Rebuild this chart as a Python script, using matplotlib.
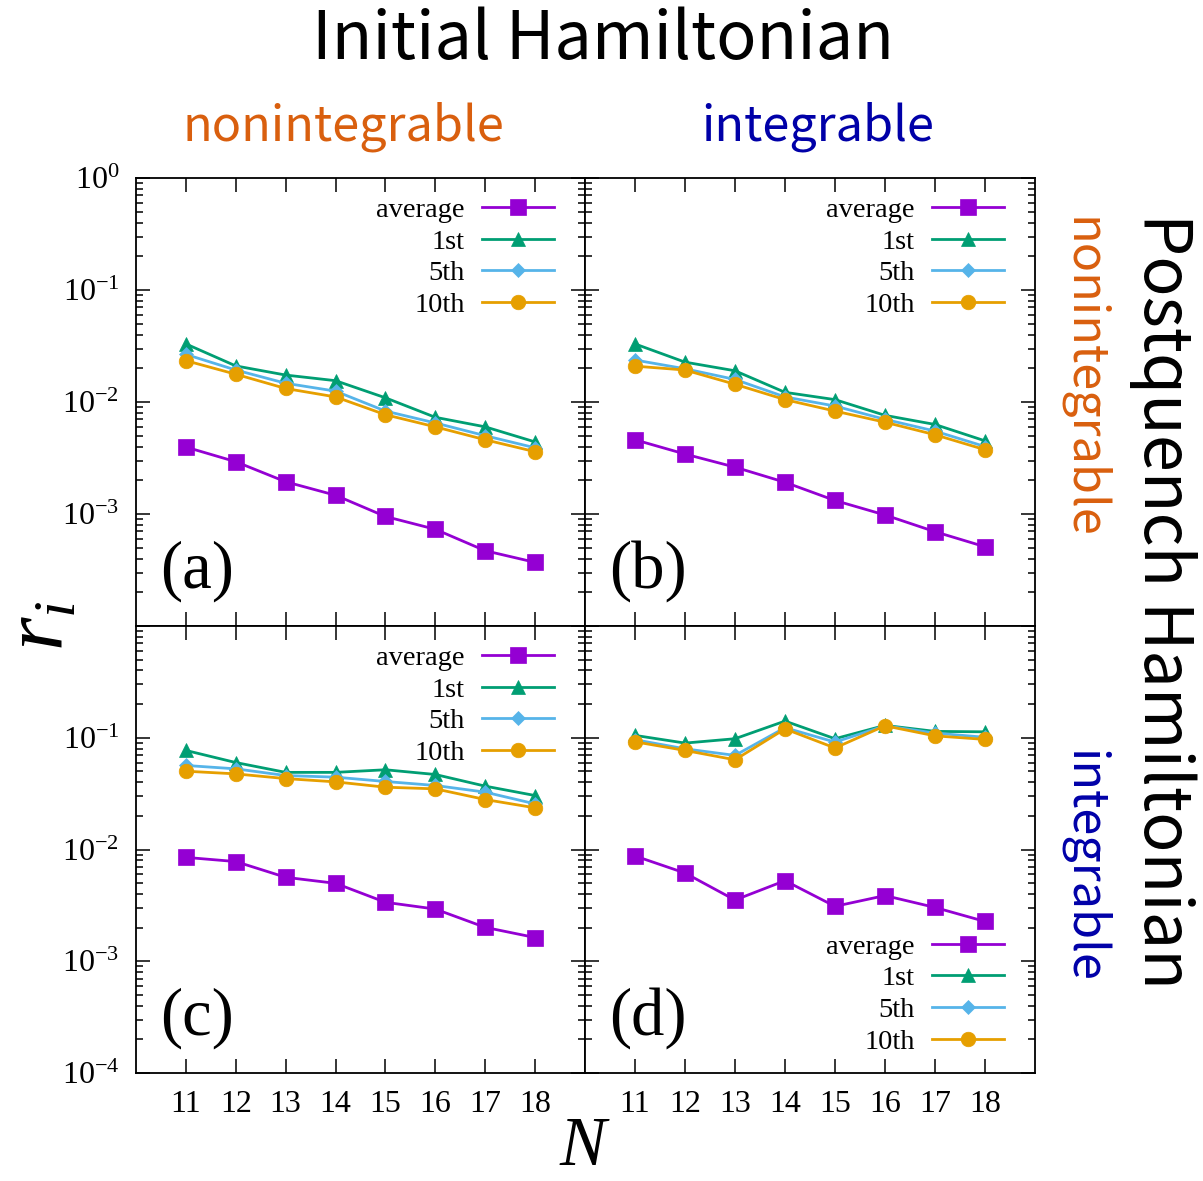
#!/usr/bin/env python
"""2x2 panel: r_i vs N for initial / postquench Hamiltonians."""

import matplotlib
matplotlib.use("Agg")
import matplotlib.pyplot as plt
from matplotlib.ticker import LogLocator, NullFormatter

plt.rcParams["font.family"] = ["Liberation Serif", "DejaVu Serif"]
plt.rcParams["mathtext.fontset"] = "custom"
plt.rcParams["mathtext.rm"] = "Liberation Serif"
plt.rcParams["mathtext.it"] = "Liberation Serif:italic"

# ---- data ----
N = [11, 12, 13, 14, 15, 16, 17, 18]

a_avg = [3.96e-3, 2.93e-3, 1.94e-3, 1.47e-3, 9.5e-4, 7.3e-4, 4.7e-4, 3.7e-4]
a_1st = [0.033, 0.021, 0.0174, 0.0155, 0.0109, 0.0073, 0.0060, 0.0044]
a_5th = [0.0266, 0.0193, 0.0147, 0.0125, 0.0083, 0.0065, 0.0050, 0.0039]
a_10th = [0.0234, 0.0177, 0.0132, 0.0111, 0.0077, 0.0060, 0.0046, 0.0036]

b_avg = [4.6e-3, 3.43e-3, 2.62e-3, 1.92e-3, 1.32e-3, 9.8e-4, 6.95e-4, 5.1e-4]
b_1st = [0.033, 0.0227, 0.019, 0.0122, 0.0105, 0.0076, 0.0063, 0.0045]
b_5th = [0.0237, 0.0198, 0.0159, 0.0111, 0.0092, 0.0070, 0.0055, 0.0040]
b_10th = [0.0209, 0.0193, 0.0144, 0.0105, 0.0083, 0.0066, 0.0051, 0.00375]

c_avg = [8.5e-3, 7.8e-3, 5.64e-3, 4.98e-3, 3.37e-3, 2.93e-3, 2.01e-3, 1.63e-3]
c_1st = [0.077, 0.060, 0.049, 0.049, 0.0517, 0.0469, 0.0369, 0.0304]
c_5th = [0.0565, 0.0527, 0.0459, 0.0444, 0.0406, 0.0374, 0.0326, 0.0256]
c_10th = [0.0502, 0.0475, 0.0431, 0.0403, 0.0361, 0.0349, 0.0280, 0.0236]

d_avg = [8.75e-3, 6.16e-3, 3.53e-3, 5.26e-3, 3.1e-3, 3.87e-3, 3.03e-3, 2.27e-3]
d_1st = [0.105, 0.0896, 0.098, 0.141, 0.098, 0.129, 0.114, 0.113]
d_5th = [0.096, 0.0796, 0.0695, 0.123, 0.0914, 0.128, 0.110, 0.101]
d_10th = [0.092, 0.077, 0.0635, 0.12, 0.081, 0.128, 0.104, 0.0966]

series_labels = ["average", "1st", "5th", "10th"]
panel_tags = ["(a)", "(b)", "(c)", "(d)"]
decades = [1e-4, 1e-3, 1e-2, 1e-1, 1e0]
top_ylabels = ["", r"$10^{-3}$", r"$10^{-2}$", r"$10^{-1}$", r"$10^{0}$"]
bot_ylabels = [r"$10^{-4}$", r"$10^{-3}$", r"$10^{-2}$", r"$10^{-1}$", ""]

COLORS = ["#9400D3", "#009E73", "#56B4E9", "#E69F00"]
MARKERS = ["s", "^", "D", "o"]
MSIZE = [11, 10.5, 7.5, 10.5]
C_NONINT = "#D95F0E"
C_INT = "#0000A8"

W, H = 1203, 1181
fig = plt.figure(figsize=(W / 100, H / 100), dpi=100)

x0, xm, x1 = 136 / W, 585 / W, 1035 / W
y1, ym, y0 = 1 - 178 / H, 1 - 626 / H, 1 - 1073 / H

ax_a = fig.add_axes([x0, ym, xm - x0, y1 - ym])
ax_b = fig.add_axes([xm, ym, x1 - xm, y1 - ym])
ax_c = fig.add_axes([x0, y0, xm - x0, ym - y0])
ax_d = fig.add_axes([xm, y0, x1 - xm, ym - y0])

panels = [
    (ax_a, [a_avg, a_1st, a_5th, a_10th]),
    (ax_b, [b_avg, b_1st, b_5th, b_10th]),
    (ax_c, [c_avg, c_1st, c_5th, c_10th]),
    (ax_d, [d_avg, d_1st, d_5th, d_10th]),
]

for i, (ax, ys) in enumerate(panels):
    for y, lab, col, mk, ms in zip(ys, series_labels, COLORS, MARKERS, MSIZE):
        ax.plot(N, y, color=col, lw=2.0, marker=mk, ms=ms,
                mec=col, mew=0.5, label=lab)
    ax.set_yscale("log")
    ax.set_xlim(10, 19)
    ax.set_ylim(1e-4, 1e0)
    ax.set_xticks(N)
    ax.yaxis.set_minor_locator(LogLocator(base=10, subs=range(2, 10), numticks=20))
    ax.yaxis.set_minor_formatter(NullFormatter())
    ax.tick_params(which="both", direction="in", top=True, right=True,
                   width=1.1, labelsize=23)
    ax.tick_params(which="major", length=10)
    ax.tick_params(which="minor", length=5)
    ax.tick_params(axis="y", pad=12)
    ax.tick_params(axis="x", pad=12)
    for sp in ax.spines.values():
        sp.set_linewidth(1.3)

    if i in (0, 1):
        ax.set_yticks(decades, labels=top_ylabels)
        ax.tick_params(labelbottom=False)
    else:
        ax.set_yticks(decades, labels=bot_ylabels)
    if i in (1, 3):
        ax.tick_params(labelleft=False)

    ax.text(0.053, 0.085, panel_tags[i], transform=ax.transAxes,
            fontsize=48, ha="left", va="baseline")

    if i == 3:
        leg_loc, anchor = "lower right", (0.931, 0.041)
    else:
        leg_loc, anchor = "upper right", (0.931, 0.957)
    ax.legend(loc=leg_loc, bbox_to_anchor=anchor, frameon=False,
              markerfirst=False, fontsize=20.5, handlelength=2.53,
              handletextpad=0.6, labelspacing=0.2, borderpad=0,
              borderaxespad=0, numpoints=1)

# axis labels
fig.text(42 / W, 1 - 626 / H, r"$r_i$", fontsize=62, rotation=90,
         ha="center", va="center")
fig.text(585 / W, 1 - 1148 / H, r"$N$", fontsize=50, ha="center", va="center")

# headers
sans = ["Noto Sans CJK JP", "DejaVu Sans"]
fig.text(603 / W, 1 - 40 / H, "Initial Hamiltonian", family=sans,
         fontsize=48, ha="center", va="center")
fig.text(343 / W, 1 - 127 / H, "nonintegrable", family=sans, color=C_NONINT,
         fontsize=35, ha="center", va="center")
fig.text(818 / W, 1 - 127 / H, "integrable", family=sans, color=C_INT,
         fontsize=35, ha="center", va="center")
fig.text(1163 / W, 1 - 601 / H, "Postquench Hamiltonian", family=sans,
         fontsize=48, rotation=-90, ha="center", va="center")
fig.text(1083 / W, 1 - 378 / H, "nonintegrable", family=sans, color=C_NONINT,
         fontsize=35, rotation=-90, ha="center", va="center")
fig.text(1083 / W, 1 - 866 / H, "integrable", family=sans, color=C_INT,
         fontsize=35, rotation=-90, ha="center", va="center")

fig.savefig("out.png", dpi=100)
plt.close(fig)
